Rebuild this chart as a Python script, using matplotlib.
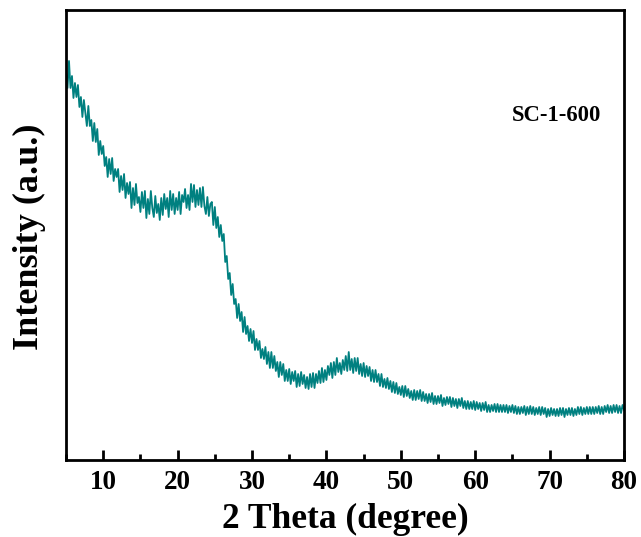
import numpy as np
import matplotlib
matplotlib.use("Agg")
import matplotlib.pyplot as plt
from matplotlib.ticker import MultipleLocator

# 2-theta start/step (degrees) and intensity (a.u.)
theta_start = 5.0
theta_step = 0.2
intensity = [
    388, 372, 399, 372, 384,
    362, 377, 363, 375, 353,
    363, 343, 360, 347, 334,
    354, 334, 340, 319, 337,
    318, 331, 305, 319, 306,
    314, 294, 303, 283, 301,
    286, 302, 279, 291, 283,
    291, 268, 284, 270, 286,
    262, 277, 266, 278, 252,
    272, 255, 276, 257, 263,
    248, 268, 252, 269, 242,
    261, 246, 269, 252, 243,
    264, 247, 256, 240, 262,
    245, 266, 251, 262, 243,
    269, 250, 266, 246, 262,
    250, 268, 246, 265, 258,
    271, 252, 265, 250, 276,
    258, 275, 253, 270, 255,
    272, 253, 273, 254, 246,
    263, 244, 256, 258, 235,
    253, 232, 243, 223, 235,
    219, 226, 198, 204, 181,
    187, 165, 176, 156, 161,
    142, 156, 139, 148, 128,
    143, 126, 134, 119, 131,
    117, 129, 110, 121, 110,
    119, 102, 111, 101, 113,
    96, 108, 92, 108, 92,
    104, 89, 98, 83, 98,
    85, 96, 79, 90, 79,
    91, 76, 88, 79, 89,
    73, 86, 74, 88, 76,
    85, 72, 83, 71, 86,
    73, 87, 72, 86, 77,
    89, 77, 92, 78, 90,
    80, 94, 85, 97, 82,
    98, 85, 102, 88, 97,
    86, 100, 90, 104, 89,
    108, 90, 101, 87, 102,
    89, 102, 86, 96, 84,
    97, 83, 94, 84, 93,
    79, 90, 78, 90, 78,
    86, 74, 86, 73, 81,
    72, 82, 71, 79, 68,
    78, 67, 77, 66, 73,
    65, 74, 63, 74, 64,
    71, 62, 69, 60, 70,
    60, 69, 61, 70, 59,
    68, 59, 66, 57, 66,
    58, 67, 56, 64, 56,
    64, 57, 65, 54, 62,
    55, 63, 56, 63, 53,
    62, 54, 61, 52, 61,
    54, 62, 52, 59, 51,
    59, 51, 58, 51, 59,
    50, 58, 51, 57, 49,
    57, 50, 58, 48, 55,
    48, 55, 49, 56, 48,
    56, 48, 55, 48, 55,
    48, 55, 47, 54, 48,
    55, 47, 54, 46, 53,
    46, 53, 47, 54, 45,
    53, 46, 54, 46, 53,
    45, 52, 46, 53, 45,
    53, 46, 52, 43, 51,
    44, 52, 45, 51, 44,
    51, 44, 52, 45, 52,
    43, 51, 45, 52, 45,
    52, 44, 51, 45, 53,
    46, 53, 45, 52, 46,
    53, 46, 53, 46, 53,
    46, 53, 47, 54, 46,
    53, 46, 54, 48, 55,
    47, 54, 47, 55, 48,
    55, 47, 54, 47, 55,
    50,
]
theta = theta_start + theta_step * np.arange(len(intensity))

xticks = [10, 20, 30, 40, 50, 60, 70, 80]
sample_label = "SC-1-600"

plt.rcParams['font.family'] = ['Liberation Serif', 'DejaVu Serif']
plt.rcParams['font.weight'] = 'bold'

fig = plt.figure(figsize=(6.41, 5.37), dpi=100)
ax = fig.add_axes([0.103, 0.1434, 0.8705, 0.838])
ax.plot(theta, intensity, color='#008080', lw=1.3)

ax.set_xlim(5, 80)
ax.set_ylim(0, 450)
ax.set_xticks(xticks)
ax.xaxis.set_minor_locator(MultipleLocator(5))
ax.set_yticks([])
ax.tick_params(axis='x', which='major', direction='in', length=7, width=2.0,
               labelsize=19.5, pad=7, top=False)
ax.tick_params(axis='x', which='minor', direction='in', length=4, width=2.0, top=False)
for lab in ax.get_xticklabels():
    lab.set_fontweight('bold')
for s in ax.spines.values():
    s.set_linewidth(2.0)

ax.set_xlabel('2 Theta (degree)', fontsize=25.5, fontweight='bold', va='center')
ax.xaxis.set_label_coords(0.5, -0.133)
ax.set_ylabel('Intensity (a.u.)', fontsize=26, fontweight='bold', va='center')
ax.yaxis.set_label_coords(-0.0663, 0.4956)
ax.text(70.9, 344, sample_label, fontsize=16.3, fontweight='bold', ha='center', va='center')

fig.savefig('out.png', dpi=100)
